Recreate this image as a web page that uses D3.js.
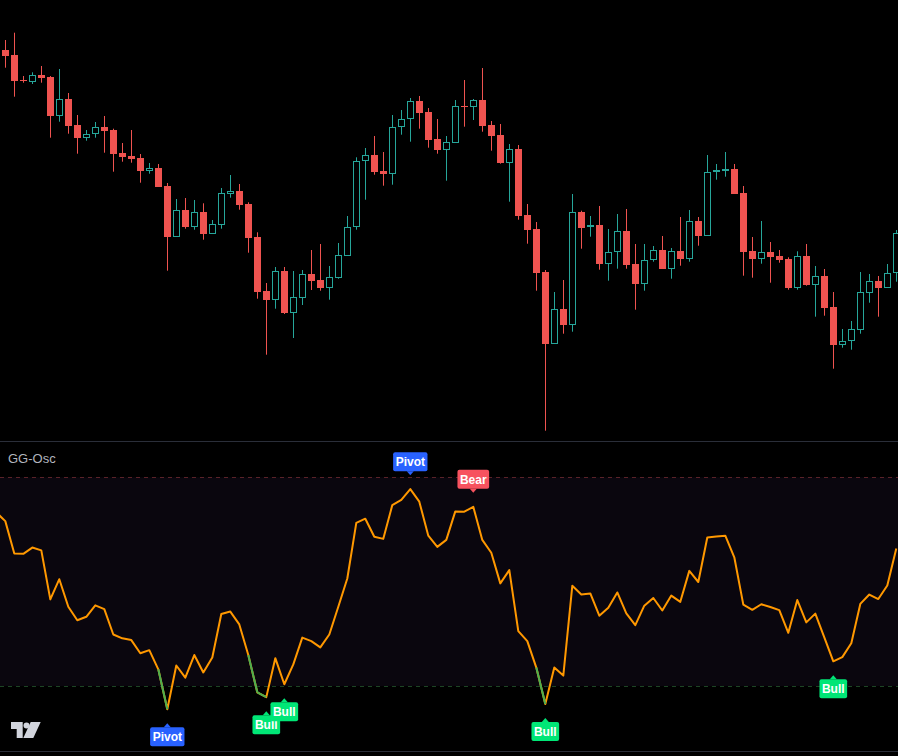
<!DOCTYPE html>
<html>
<head>
<meta charset="utf-8">
<script src="https://cdn.jsdelivr.net/npm/d3@7"></script>
<style>
  html, body { margin: 0; padding: 0; background: #000; overflow: hidden; }
  svg { display: block; }
</style>
</head>
<body>
<svg id="viz"></svg>
<script>
var width = 898;
var height = 756;

// price bars, oldest first
var open = [450,445,420,418.3,425,423,384.3,401,375,362.3,
    365.7,373,370,347,344,342,329.3,332,314,263.3,
    290,273.3,288,266.3,275.3,306.3,309,296,263,209,
    200.3,229,187.3,202.3,226,220,212.3,222.3,244.3,272.7,
    338.7,344.7,329,326.3,372.7,380.7,398.7,388,361,350.3,
    357.3,394,393.3,400,375,365,337.3,351,285,271,
    228,156.3,191,175.3,287.7,272.7,274.7,236.3,247.7,269,
    236,216.3,239.7,250,231.3,249,241.3,279,264.3,327.7,
    329.7,331,307,249,241.3,247.7,244,241,212.3,243.7,
    215.3,223.7,193,155.3,158.7,170.3,207.3,219,212.3,226.7];
var high = [460,467.3,424,427.7,434,424,431,407,385,370,
    378,384,371.3,357,370,346,337,336,317,301,
    302,300,296.7,280,312,325,316,297.7,267.7,217,
    233,233,229,230,250,256,234,257,284,342.7,
    352,364,348,385,390,402,404,392,381,364,
    400,420,401,432,379,376,356,355,296,278,
    230,208,220,306,289.3,284,294,271,286,291,
    256,256,254,264,252,283,290,283,345,336,
    348,336,314,263,279,258,250,242.7,248.7,256,
    234,231,208,171,179,228,226,224,236,270];
var low = [432.3,403.3,417.3,416,417.3,362.3,378.3,366.3,346.3,359.3,
    362.3,347.3,328.3,338.3,337.3,317.3,326.3,313.3,229.3,263.3,
    271.3,270.3,260.3,266.3,271.3,302.3,290.3,247.3,201.3,145.3,
    191.3,186,162,195,210,209.3,200.3,221.3,244.3,270.3,
    300.3,325.3,314.3,315.3,365.3,358.3,371.3,352.3,346.3,319.3,
    357.3,373.3,380,368.3,349.3,336.3,298.3,280.3,256.3,209.3,
    69.3,156.3,166.3,168.3,251.3,263.3,230.3,219.3,231.3,231.3,
    190.3,209.3,238.3,231.3,221.3,234.3,238.3,254.3,264.3,320.3,
    323.3,306.3,224.3,222.3,236.3,217.3,237.3,210.3,210.3,214.3,
    183.3,184.3,131.3,152.3,150.3,166.3,197.3,183.3,212.3,218.3];
var close = [444.3,419.3,419.3,425,422.3,384,400.7,374.3,362.3,365.7,
    372.7,369.3,346.3,343.3,341.3,329.3,332,313.3,263.3,289.7,
    273.3,287.7,266.3,275.7,306.7,308.7,295.3,262.3,208.3,200.3,
    229,187.3,203,225.7,219.3,212.3,223,244.7,272.7,338.7,
    344.7,328.3,326.3,372.7,380.7,398.7,387.3,360.3,350.3,357.7,
    394,393.3,399.7,374.3,364.3,337.3,350.7,284.3,270.3,227.3,
    156.3,190.7,175.3,287.7,272.3,274.7,236.3,247.7,268.7,235.3,
    216.3,239.7,249.7,231.3,248.7,241.3,279,264.3,327.7,329.7,
    330.7,306.3,248.3,241.3,247.7,243.3,240.3,212.3,243.7,215.3,
    223.7,192.3,155.3,158.7,170.7,207.7,218.7,212.3,226.7,266.7];

// GG-Osc, first value belongs to the bar just left of the screen
var osc = [69.9,
    67.4,58.1,58.0,59.8,59.0,44.9,50.7,42.8,38.9,39.9,
    43.2,42.1,34.8,33.7,33.2,29.4,30.3,24.8,13.3,25.9,
    22.4,28.9,23.9,28.2,40.7,41.4,37.7,28.9,18.2,16.8,
    28.0,20.5,26.2,33.9,32.9,31.1,34.8,42.8,50.9,66.9,
    68.1,62.9,62.3,72.0,73.5,76.6,73.0,63.2,60.0,62.0,
    70.2,70.1,71.5,62.0,58.3,49.5,53.3,35.8,32.9,25.3,
    14.8,25.3,23.0,48.8,46.3,46.6,40.2,42.5,46.9,40.9,
    37.5,43.1,45.3,41.7,46.0,44.2,53.1,49.9,62.7,63.0,
    63.2,57.0,43.4,41.9,43.5,42.7,41.8,35.3,44.7,38.3,
    40.8,34.0,27.1,28.3,32.3,43.6,46.3,45.0,48.9,59.5];
var upperLevel = 80;
var lowerLevel = 20;

// signal labels
var markIndex = [18, 29, 31, 45, 52, 60, 92];
var markText = ["Pivot", "Bull", "Bull", "Pivot", "Bear", "Bull", "Bull"];
var markSide = ["below", "below", "below", "above", "above", "below", "below"];

var upColor = "#26a69a";
var downColor = "#ef5350";
var oscColor = "#ff9800";
var oscLowColor = "#4caf50";
var markColors = {"Pivot": "#2962ff", "Bull": "#00e676", "Bear": "#f7525f"};

var svg = d3.select("#viz").attr("width", width).attr("height", height);

var x = d3.scaleLinear().domain([0, 99]).range([5.3, 896.3]);
var yPrice = d3.scaleLinear().domain([60, 500]).range([440, 0]);
var yOsc = d3.scaleLinear().domain([lowerLevel, upperLevel]).range([686, 477.3]);

// ---- price pane ----
var bars = d3.range(open.length);
var candles = svg.append("g").attr("class", "candles");

function barX(i) { return Math.round(x(i)); }

candles.selectAll("line")
    .data(bars)
    .enter()
    .append("line")
    .attr("x1", function(i) { return barX(i) + 0.5; })
    .attr("x2", function(i) { return barX(i) + 0.5; })
    .attr("y1", function(i) { return yPrice(high[i]); })
    .attr("y2", function(i) { return yPrice(low[i]); })
    .attr("stroke", function(i) { return close[i] >= open[i] ? upColor : downColor; })
    .attr("stroke-width", 1);

candles.selectAll("rect")
    .data(bars)
    .enter()
    .append("rect")
    .attr("x", function(i) { return close[i] >= open[i] ? barX(i) - 2.5 : barX(i) - 3; })
    .attr("width", function(i) { return close[i] >= open[i] ? 6 : 7; })
    .attr("y", function(i) {
        var t = Math.round(yPrice(Math.max(open[i], close[i])));
        return close[i] >= open[i] ? t + 0.5 : t;
    })
    .attr("height", function(i) {
        var t = Math.round(yPrice(Math.max(open[i], close[i])));
        var b = Math.round(yPrice(Math.min(open[i], close[i])));
        var h = Math.max(1, b - t);
        return close[i] >= open[i] ? Math.max(1, h - 1) : h;
    })
    .attr("fill", function(i) { return close[i] >= open[i] ? "#000" : downColor; })
    .attr("stroke", function(i) { return close[i] >= open[i] ? upColor : "none"; })
    .attr("stroke-width", 1);

// ---- oscillator pane ----
svg.append("line")
    .attr("x1", 0).attr("x2", width)
    .attr("y1", 441.5).attr("y2", 441.5)
    .attr("stroke", "#2a2e39");

svg.append("line")
    .attr("x1", 0).attr("x2", width)
    .attr("y1", 751.5).attr("y2", 751.5)
    .attr("stroke", "#2a2e39");

svg.append("rect")
    .attr("x", 0).attr("width", width)
    .attr("y", yOsc(upperLevel))
    .attr("height", yOsc(lowerLevel) - yOsc(upperLevel))
    .attr("fill", "#0a060e");

svg.append("line")
    .attr("x1", 0).attr("x2", width)
    .attr("y1", Math.round(yOsc(upperLevel)) + 0.5).attr("y2", Math.round(yOsc(upperLevel)) + 0.5)
    .attr("stroke", "#5a2228")
    .attr("stroke-dasharray", "4,4");

svg.append("line")
    .attr("x1", 0).attr("x2", width)
    .attr("y1", Math.round(yOsc(lowerLevel)) + 0.5).attr("y2", Math.round(yOsc(lowerLevel)) + 0.5)
    .attr("stroke", "#1d4424")
    .attr("stroke-dasharray", "4,4");

svg.append("text")
    .attr("x", 8)
    .attr("y", 463)
    .text("GG-Osc")
    .style("fill", "#b2b5be")
    .style("font-family", "'Liberation Sans', Arial, sans-serif")
    .style("font-size", "13px");

var oscPoints = osc.map(function(v, k) { return {i: k - 1, v: v}; });

var oscLine = d3.line()
    .x(function(d) { return x(d.i); })
    .y(function(d) { return yOsc(d.v); });

svg.append("path")
    .datum(oscPoints)
    .attr("d", oscLine)
    .attr("fill", "none")
    .attr("stroke", oscColor)
    .attr("stroke-width", 2)
    .attr("stroke-linejoin", "round");

// segments ending under the lower level are drawn green
var lowSegs = [];
for (var k = 1; k < oscPoints.length; k++) {
    if (oscPoints[k].v < lowerLevel) lowSegs.push([oscPoints[k - 1], oscPoints[k]]);
}
svg.append("g").selectAll("path")
    .data(lowSegs)
    .enter()
    .append("path")
    .attr("d", oscLine)
    .attr("fill", "none")
    .attr("stroke", oscLowColor)
    .attr("stroke-width", 2)
    .attr("stroke-linecap", "butt");

// ---- labels ----
var marks = svg.append("g").attr("class", "marks");
markIndex.forEach(function(idx, n) {
    var px = x(idx);
    var py = yOsc(osc[idx + 1]);
    var g = marks.append("g");
    var txt = g.append("text")
        .text(markText[n])
        .attr("text-anchor", "middle")
        .style("fill", "#fff")
        .style("font-family", "'Liberation Sans', Arial, sans-serif")
        .style("font-weight", 700)
        .style("font-size", "12px");
    var w = txt.node().getComputedTextLength() + 5;
    var h = 19;
    var top, tip, base;
    if (markSide[n] == "below") {
        top = py + 18;
        tip = py + 14;
        base = top;
    } else {
        top = py - 18 - h;
        tip = py - 14;
        base = py - 18;
    }
    g.insert("path", "text")
        .attr("d", "M" + (px - 3.5) + "," + base + "L" + px + "," + tip + "L" + (px + 3.5) + "," + base + "Z")
        .attr("fill", markColors[markText[n]]);
    g.insert("rect", "text")
        .attr("x", px - w / 2)
        .attr("y", top)
        .attr("width", w)
        .attr("height", h)
        .attr("rx", 2)
        .attr("fill", markColors[markText[n]]);
    txt.attr("x", px).attr("y", top + h / 2 + 4.5);
});

// ---- TradingView logo ----
var logo = svg.append("g").attr("fill", "#d1d4dc");
logo.append("path").attr("d", "M11,722H22.7V738H16.7V729H11Z");
logo.append("circle").attr("cx", 26.5).attr("cy", 725.5).attr("r", 3);
logo.append("path").attr("d", "M30.7,722H40.7L33.3,738H23.3Z");
</script>
</body>
</html>
